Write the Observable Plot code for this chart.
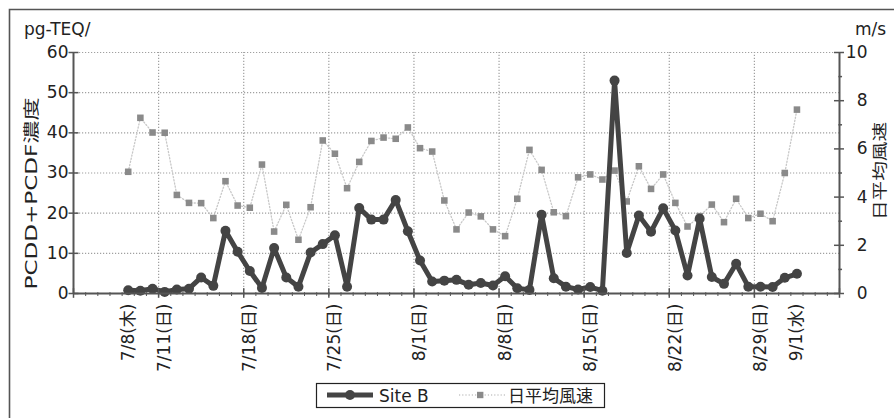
<!DOCTYPE html>
<html><head><meta charset="utf-8">
<script src="https://cdn.jsdelivr.net/npm/d3@7"></script>
<script src="https://cdn.jsdelivr.net/npm/@observablehq/plot@0.6"></script>
<style>
body{margin:0;background:#fff;}
#chart{position:relative;width:894px;height:418px;overflow:hidden;background:#fff;}
</style></head><body><div id="chart"></div>
<script>
// ---- data ----
const dates = ["7/8","7/9","7/10","7/11","7/12","7/13","7/14","7/15","7/16","7/17","7/18","7/19","7/20","7/21","7/22","7/23","7/24","7/25","7/26","7/27","7/28","7/29","7/30","7/31",
"8/1","8/2","8/3","8/4","8/5","8/6","8/7","8/8","8/9","8/10","8/11","8/12","8/13","8/14","8/15","8/16","8/17","8/18","8/19","8/20","8/21","8/22","8/23","8/24","8/25","8/26","8/27","8/28","8/29","8/30","8/31",
"9/1"];
const siteB = [0.8,0.7,1.2,0.4,1.0,1.2,4.0,1.9,15.6,10.4,
5.6,1.4,11.3,4.0,1.7,10.2,12.3,14.5,1.7,21.3,
18.4,18.4,23.3,15.5,8.2,3.0,3.2,3.4,2.2,2.6,
2.0,4.3,1.3,0.9,19.6,3.8,1.7,1.0,1.6,0.7,
53.0,10.1,19.4,15.4,21.2,15.7,4.5,18.6,4.1,2.4,
7.4,1.7,1.7,1.6,3.9,4.9];
const wind = [5.05,7.29,6.68,6.67,4.09,3.76,3.75,3.13,4.66,3.65,
3.56,5.35,2.57,3.68,2.23,3.58,6.35,5.8,4.37,5.46,
6.33,6.47,6.42,6.89,6.03,5.89,3.86,2.66,3.36,3.2,
2.66,2.38,3.93,5.96,5.13,3.37,3.21,4.82,4.94,4.73,
5.1,3.82,5.28,4.34,4.94,3.76,2.78,3.21,3.69,2.96,
3.93,3.13,3.31,3.0,5.0,7.63];
const tickDates = ["7/8","7/11","7/18","7/25","8/1","8/8","8/15","8/22","8/29","9/1"];
const tickLabels = ["7/8(木)","7/11(日)","7/18(日)","7/25(日)","8/1(日)","8/8(日)","8/15(日)","8/22(日)","8/29(日)","9/1(水)"];
const gridDates = ["7/11","7/18","7/25","8/1","8/8","8/15","8/22","8/29"];
const leftTicks = [0,10,20,30,40,50,60];
const leftGrid = [10,20,30,40,50,60];
const rightTicks = [0,2,4,6,8,10];
const rightMinor = [1,3,5,7,9];
const leftMax = 60, rightMax = 10;
const padDays = 4;

// ---- build ----
const k = leftMax / rightMax;
const rows = dates.map((d, i) => ({date: d, i, b: siteB[i], w: wind[i]}));
const x0 = -padDays, x1 = dates.length - 1 + padDays;
const boundaries = d3.range(x0, x1 + 1);
const gridIdx = gridDates.map(d => dates.indexOf(d));
const font = "'DejaVu Sans','Noto Sans CJK JP',sans-serif";
const axisC = "#555";

const plot = Plot.plot({
  width: 894, height: 418,
  marginLeft: 73, marginRight: 55, marginTop: 52, marginBottom: 125,
  x: {domain: [x0, x1], axis: null},
  y: {domain: [0, leftMax], axis: null},
  style: {fontFamily: font, fontSize: "17px", background: "white", overflow: "visible", color: "#222"},
  marks: [
    Plot.ruleY(leftGrid, {y: d => d, x1: x0, x2: x1, stroke: "#a0a0a0", strokeWidth: 1.2, strokeDasharray: "1.2,1.8"}),
    Plot.ruleX(gridIdx, {x: d => d, y1: 0, y2: leftMax, stroke: "#a0a0a0", strokeWidth: 1.2, strokeDasharray: "1.2,1.8"}),
    Plot.line(rows, {x: d => d.i + 0.5, y: d => d.w * k, stroke: "#c8c8c8", strokeWidth: 1.3, strokeDasharray: "1.2,2"}),
    Plot.dot(rows, {x: d => d.i + 0.5, y: d => d.w * k, symbol: "square", r: 3.7, fill: "#8a8a8a", stroke: "none"}),
    Plot.line(rows, {x: d => d.i + 0.5, y: "b", stroke: "#444", strokeWidth: 5, strokeLinejoin: "round"}),
    Plot.dot(rows, {x: d => d.i + 0.5, y: "b", r: 5, fill: "#444", stroke: "none"}),
    // axis lines
    Plot.ruleX([x0, x1], {stroke: axisC, strokeWidth: 2}),
    Plot.ruleY([0], {stroke: axisC, strokeWidth: 2}),
    // left ticks
    Plot.ruleY(leftTicks, {y: d => d, x1: x0 - 0.37, x2: x0 + 0.45, stroke: axisC, strokeWidth: 1.5}),
    // right ticks
    Plot.ruleY(rightTicks, {y: d => d * k, x1: x1 - 0.41, x2: x1 + 0.41, stroke: axisC, strokeWidth: 1.5}),
    Plot.ruleY(rightMinor, {y: d => d * k, x1: x1 - 0.05, x2: x1 + 0.25, stroke: axisC, strokeWidth: 1.5}),
    // bottom ticks
    Plot.ruleX(boundaries, {x: d => d, y1: -0.75, y2: 0.2, stroke: axisC, strokeWidth: 1}),
    Plot.ruleX(gridIdx.concat([x0, x1]), {x: d => d, y1: -1.2, y2: 1.2, stroke: axisC, strokeWidth: 1.5}),
    // tick labels
    Plot.text(leftTicks, {x: x0, y: d => d, text: d => String(d), textAnchor: "end", dx: -5, fontSize: 17, fill: "#222"}),
    Plot.text(rightTicks, {x: x1, y: d => d * k, text: d => String(d), textAnchor: "end", dx: 28, fontSize: 17, fill: "#222"}),
    Plot.text(tickDates, {x: d => dates.indexOf(d) + 0.5, y: 0, text: (d, i) => tickLabels[i], rotate: -90, textAnchor: "end", lineAnchor: "middle", dy: 10, fontSize: 17, fill: "#222"})
  ]
});

const svg = d3.select(plot);
const g = svg.append("g").attr("font-family", font).attr("fill", "#222").attr("text-anchor", "start");
// frame
g.append("path").attr("d", "M9.5,418V9.5H894").attr("fill", "none").attr("stroke", "#555").attr("stroke-width", 1.6);
// unit labels
g.append("text").attr("x", 24).attr("y", 35).attr("font-size", 17).attr("text-anchor", "start").text("pg-TEQ/");
g.append("text").attr("x", 855).attr("y", 35).attr("font-size", 17).attr("text-anchor", "start").text("m/s");
// axis titles
g.append("text").attr("transform", "translate(31,193.5) rotate(-90)").attr("text-anchor", "middle").attr("dy", "0.35em")
  .attr("font-size", 16).attr("textLength", 192).attr("lengthAdjust", "spacingAndGlyphs").attr("fill", "#222").text("PCDD+PCDF濃度");
g.append("text").attr("transform", "translate(880,171) rotate(-90)").attr("text-anchor", "middle").attr("dy", "0.35em")
  .attr("font-size", 15).attr("textLength", 98).attr("lengthAdjust", "spacingAndGlyphs").attr("fill", "#222").text("日平均風速");
// legend
const lg = g.append("g");
lg.append("rect").attr("x", 316.5).attr("y", 383.5).attr("width", 288).attr("height", 24).attr("fill", "white").attr("stroke", "#222").attr("stroke-width", 1.2);
lg.append("line").attr("x1", 327).attr("x2", 373).attr("y1", 395).attr("y2", 395).attr("stroke", "#444").attr("stroke-width", 5);
lg.append("circle").attr("cx", 350).attr("cy", 395).attr("r", 5).attr("fill", "#444");
lg.append("text").attr("x", 379).attr("y", 401.5).attr("font-size", 17).attr("text-anchor", "start").text("Site B");
lg.append("line").attr("x1", 459).attr("x2", 505).attr("y1", 395).attr("y2", 395).attr("stroke", "#c8c8c8").attr("stroke-width", 1.3).attr("stroke-dasharray", "1.2,2");
lg.append("rect").attr("x", 477).attr("y", 391.8).attr("width", 6.4).attr("height", 6.4).attr("fill", "#8a8a8a");
lg.append("text").attr("x", 508).attr("y", 401.5).attr("font-size", 17).attr("text-anchor", "start").text("日平均風速");

document.getElementById("chart").appendChild(plot);
</script>
</body></html>
